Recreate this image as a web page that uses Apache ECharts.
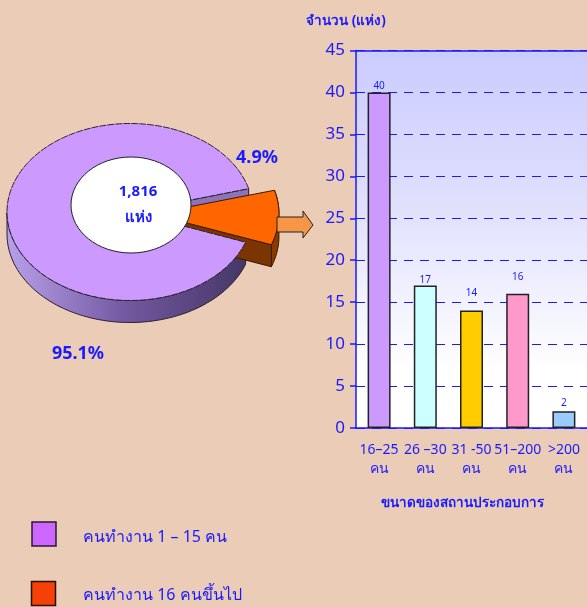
<!DOCTYPE html>
<html>
<head>
<meta charset="utf-8">
<style>
  html, body { margin: 0; padding: 0; background: #ebcdb7; }
  #chart { width: 587px; height: 607px; }
</style>
<script src="https://cdn.jsdelivr.net/npm/echarts@6/dist/echarts.min.js"></script>
</head>
<body>
<div id="chart"></div>
<script>
const sizeCategories = ['16–25\nคน', '26 –30\nคน', '31 -50\nคน', '51–200\nคน', '>200\nคน'];
const sizeValues = [40, 17, 14, 16, 2];

const pieNames = ['คนทำงาน 1 – 15 คน', 'คนทำงาน 16 คนขึ้นไป'];
const pieLabels = [95.1, 4.9];
// the wedge in the picture is drawn wider than its printed 4.9%, so keep the drawn share apart
const pieDrawnShares = [90.2, 9.8];
const pieTotal = '1,816';

const blue = '#1a1aff';
const fontFamily = '"Noto Sans", "DejaVu Sans", sans-serif';
const barColors = ['#cc99ff', '#ccffff', '#ffcc00', '#ff99cc', '#99ccff'];
const labelGaps = [1, 0, 12, 12, 3];

const pie = { cx: 130, cy: 212, rx: 123, ry: 88.5, depth: 22, start: 15.3 };
const orangeOffset = { x: 22, y: 2, rx: 127, ry: 90 };

function ellipsePoint(cx, cy, rx, ry, deg, dy) {
  const t = deg * Math.PI / 180;
  return [cx + rx * Math.cos(t), cy - ry * Math.sin(t) + (dy || 0)];
}

function arc(cx, cy, rx, ry, from, to, dy) {
  const pts = [];
  const steps = Math.max(2, Math.ceil(Math.abs(to - from) / 2));
  for (let i = 0; i <= steps; i++) {
    pts.push(ellipsePoint(cx, cy, rx, ry, from + (to - from) * i / steps, dy));
  }
  return pts;
}

function poly(points, style, z2) {
  return { type: 'polygon', z2, shape: { points }, style };
}

function renderSlice(params, api) {
  const sweep = api.value(0) / 100 * 360;
  const edge = { stroke: '#2a2030', lineWidth: 1 };
  if (params.dataIndex === 0) {
    const from = pie.start;
    const to = from + sweep;
    const top = [[pie.cx, pie.cy]].concat(arc(pie.cx, pie.cy, pie.rx, pie.ry, from, to));
    const wall = arc(pie.cx, pie.cy, pie.rx, pie.ry, 180, to)
      .concat(arc(pie.cx, pie.cy, pie.rx, pie.ry, to, 180, pie.depth));
    const cutEnd = ellipsePoint(pie.cx, pie.cy, pie.rx, pie.ry, from);
    const cut = [[pie.cx, pie.cy], cutEnd, [cutEnd[0], cutEnd[1] + pie.depth], [pie.cx, pie.cy + pie.depth]];
    return {
      type: 'group',
      children: [
        poly(wall, Object.assign({
          fill: new echarts.graphic.LinearGradient(0, 0, 1, 0, [
            { offset: 0, color: '#b9a0ea' },
            { offset: 0.5, color: '#7258a0' },
            { offset: 1, color: '#463766' }
          ])
        }, edge), 1),
        poly(cut, Object.assign({ fill: '#8d74b8' }, edge), 1),
        poly(top, { fill: '#cc99ff', stroke: '#2a2030', lineWidth: 1, lineDash: [7, 1] }, 5)
      ]
    };
  }
  const cx = pie.cx + orangeOffset.x;
  const cy = pie.cy + orangeOffset.y;
  const rx = orangeOffset.rx;
  const ry = orangeOffset.ry;
  const to = pie.start;
  const from = to - sweep;
  const top = [[cx, cy]].concat(arc(cx, cy, rx, ry, from, to));
  const rim = arc(cx, cy, rx, ry, from, to).concat(arc(cx, cy, rx, ry, to, from, pie.depth));
  const low = ellipsePoint(cx, cy, rx, ry, from);
  const cut = [[cx, cy], low, [low[0], low[1] + pie.depth], [cx, cy + pie.depth]];
  return {
    type: 'group',
    children: [
      poly(rim, { fill: '#8a3c00', stroke: '#3a1a00', lineWidth: 1 }, 2),
      poly(cut, { fill: '#7a3500', stroke: '#3a1a00', lineWidth: 1 }, 2),
      poly(top, { fill: '#ff6600', stroke: '#3a1a00', lineWidth: 1 }, 6)
    ]
  };
}

function text(x, y, style, textAlign) {
  return {
    type: 'text', x, y, z: 20,
    style: Object.assign({ fontFamily, fill: blue, textAlign: textAlign || 'center', textVerticalAlign: 'middle' }, style)
  };
}

const chart = echarts.init(document.getElementById('chart'), null, { renderer: 'canvas' });

chart.setOption({
  animation: false,
  backgroundColor: '#ebcdb7',
  textStyle: { fontFamily },
  grid: {
    left: 356, top: 50.5, right: -2.5, bottom: 179,
    show: true, borderWidth: 0,
    backgroundColor: new echarts.graphic.LinearGradient(0, 0, 0, 1, [
      { offset: 0, color: '#ccccff' },
      { offset: 0.35, color: '#dcdcfe' },
      { offset: 0.85, color: '#ffffff' },
      { offset: 1, color: '#ffffff' }
    ])
  },
  xAxis: [
    {
      type: 'category',
      data: sizeCategories,
      axisLine: { lineStyle: { color: blue, width: 1.5 } },
      axisTick: { length: 4, lineStyle: { color: blue, width: 1.5 } },
      axisLabel: { color: blue, fontSize: 14, lineHeight: 19, margin: 13, interval: 0, hideOverlap: false },
      name: 'ขนาดของสถานประกอบการ',
      nameLocation: 'middle',
      nameGap: 68,
      nameTextStyle: { color: blue, fontSize: 13.5, fontWeight: 'bold', padding: [0, 18, 0, 0] }
    },
    {
      type: 'category',
      position: 'top',
      data: sizeCategories,
      axisLine: { lineStyle: { color: blue, width: 1.5 } },
      axisTick: { show: false },
      axisLabel: { show: false }
    }
  ],
  yAxis: {
    type: 'value',
    min: 0,
    max: 45,
    interval: 5,
    axisLine: { show: true, lineStyle: { color: blue, width: 1.5 } },
    axisTick: { show: true, length: 6, lineStyle: { color: blue, width: 1.5 } },
    axisLabel: { color: blue, fontSize: 17, margin: 11, padding: [5, 0, 0, 0] },
    splitLine: { lineStyle: { color: blue, type: [9, 7], width: 1 } },
    name: 'จำนวน (แห่ง)',
    nameLocation: 'end',
    nameGap: 22,
    nameTextStyle: { color: blue, fontSize: 13.5, fontWeight: 'bold', align: 'center', padding: [0, 20, 0, 0] }
  },
  series: [
    {
      type: 'bar',
      barWidth: 23,
      data: sizeValues.map((value, i) => ({
        value,
        itemStyle: { color: barColors[i] },
        label: { distance: labelGaps[i] }
      })),
      itemStyle: { borderColor: '#222222', borderWidth: 1.5 },
      label: { show: true, position: 'top', color: blue, fontSize: 10 }
    },
    {
      type: 'custom',
      coordinateSystem: 'none',
      data: pieDrawnShares.map(value => [value]),
      renderItem: renderSlice,
      silent: true
    }
  ],
  graphic: [
    {
      type: 'ellipse', z: 15,
      shape: { cx: 131, cy: 205, rx: 60, ry: 48 },
      style: { fill: '#ffffff', stroke: '#222222', lineWidth: 1 }
    },
    text(138, 192, { text: pieTotal, fontSize: 15, fontWeight: 'bold' }),
    text(138, 218, { text: 'แห่ง', fontSize: 15, fontWeight: 'bold' }),
    text(257, 158, { text: pieLabels[1] + '%', fontSize: 18, fontWeight: 'bold' }),
    text(78, 354, { text: pieLabels[0] + '%', fontSize: 18, fontWeight: 'bold' }),
    {
      type: 'polygon', z: 16,
      shape: { points: [[277, 217], [303, 217], [303, 211], [313, 225], [303, 238], [303, 232], [277, 232]] },
      style: { fill: '#f79646', stroke: '#222222', lineWidth: 1 }
    },
    {
      type: 'rect', z: 16,
      shape: { x: 32, y: 522, width: 24, height: 24 },
      style: { fill: '#cc66ff', stroke: '#2a1a30', lineWidth: 1.5 }
    },
    text(83, 537, { text: pieNames[0], fontSize: 16 }, 'left'),
    {
      type: 'rect', z: 16,
      shape: { x: 31.5, y: 581.5, width: 24, height: 24 },
      style: { fill: '#f54008', stroke: '#2a1000', lineWidth: 1.5 }
    },
    text(83, 595, { text: pieNames[1], fontSize: 16 }, 'left')
  ]
});
</script>
</body>
</html>
